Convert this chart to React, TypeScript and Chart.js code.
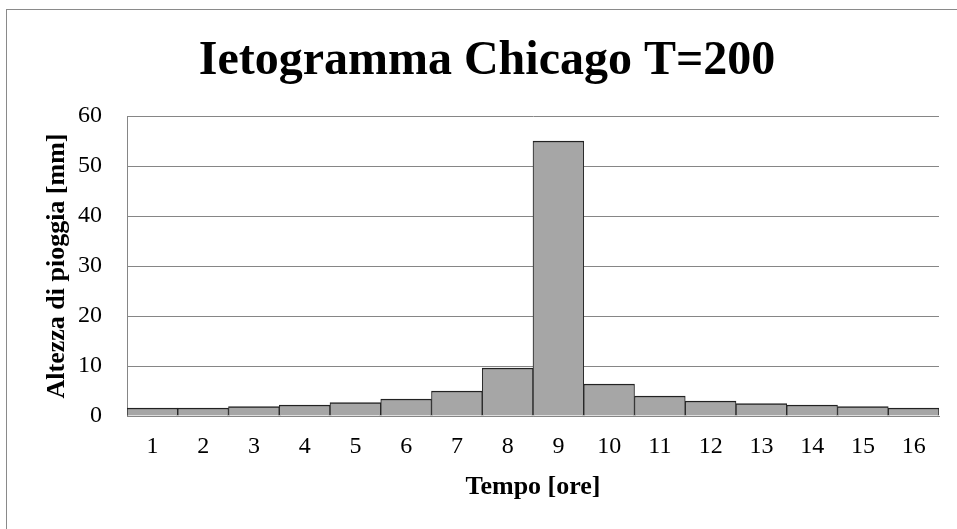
import React, { useEffect, useRef } from "react";
import { Chart, registerables } from "chart.js";

Chart.register(...registerables);

// Ietogramma Chicago, tempo di ritorno 200 anni: altezza di pioggia oraria
const hours: string[] = ["1", "2", "3", "4", "5", "6", "7", "8", "9", "10", "11", "12", "13", "14", "15", "16"];
const rainfallMm: number[] = [1.6, 1.6, 1.9, 2.2, 2.7, 3.4, 5.0, 9.6, 55.0, 6.4, 4.0, 3.0, 2.5, 2.2, 1.9, 1.6];

const chartTitle = "Ietogramma Chicago T=200";
const xAxisTitle = "Tempo [ore]";
const yAxisTitle = "Altezza di pioggia [mm]";
const yMin = 0;
const yMax = 60;
const yStep = 10;

const SERIF = '"Liberation Serif", "Times New Roman", Times, serif';
const GRID = "#868686";

export default function App() {
  const canvasRef = useRef<HTMLCanvasElement | null>(null);

  useEffect(() => {
    const canvas = canvasRef.current;
    if (!canvas) return;
    const chart = new Chart(canvas, {
      type: "bar",
      data: {
        labels: hours,
        datasets: [
          {
            data: rainfallMm,
            backgroundColor: "#a6a6a6",
            borderColor: "#222222",
            borderWidth: { top: 1.5, left: 1, right: 1, bottom: 0 } as any,
            borderSkipped: false,
            categoryPercentage: 1,
            barPercentage: 1,
          },
        ],
      },
      options: {
        responsive: false,
        animation: false,
        layout: { padding: { top: 0, left: 35, right: 18, bottom: 0 } },
        plugins: {
          legend: { display: false },
          tooltip: { enabled: false },
          title: {
            display: true,
            text: chartTitle,
            color: "#000",
            font: { family: SERIF, size: 48, weight: "bold" },
            padding: { top: 33, bottom: 25.4 },
          },
        },
        scales: {
          x: {
            grid: { display: false, drawTicks: false },
            border: { display: true, color: GRID, width: 1 },
            ticks: {
              color: "#000",
              font: { family: SERIF, size: 24 },
              padding: 16,
              maxRotation: 0,
            },
            title: {
              display: true,
              text: xAxisTitle,
              color: "#000",
              font: { family: SERIF, size: 26, weight: "bold" },
              padding: { top: 0, bottom: 26 },
            },
            afterFit: (scale: any) => {
              scale.height = 113;
            },
          },
          y: {
            min: yMin,
            max: yMax,
            grid: { color: GRID, lineWidth: 1, drawTicks: false },
            border: { display: true, color: GRID, width: 1 },
            ticks: {
              stepSize: yStep,
              color: "#000",
              font: { family: SERIF, size: 24 },
              padding: 25,
            },
            title: {
              display: true,
              text: yAxisTitle,
              color: "#000",
              font: { family: SERIF, size: 26, weight: "bold" },
              padding: { top: 7, bottom: 0 },
            },
            afterFit: (scale: any) => {
              scale.width = 92;
            },
          },
        },
      },
    });
    return () => chart.destroy();
  }, []);

  return (
    <div style={{ position: "absolute", left: 0, top: 0, width: 957, height: 529, background: "#fff" }}>
      <div
        style={{
          position: "absolute",
          left: 6,
          top: 9,
          right: 0,
          bottom: 0,
          borderLeft: "1px solid #8a8a8a",
          borderTop: "1px solid #8a8a8a",
        }}
      />
      <canvas ref={canvasRef} width={957} height={529} style={{ position: "absolute", left: 0, top: 0 }} />
    </div>
  );
}
